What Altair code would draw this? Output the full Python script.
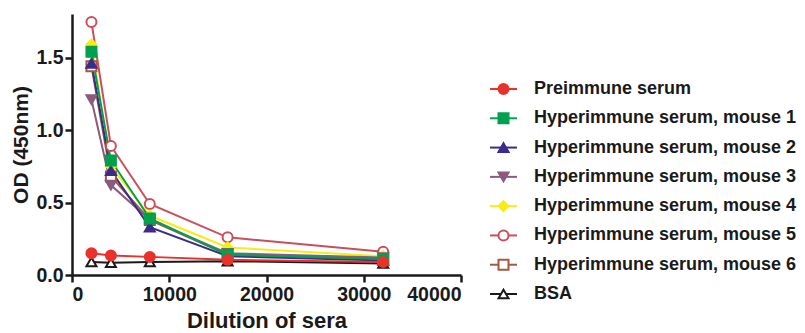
import altair as alt
import pandas as pd

dilution = [2000, 4000, 8000, 16000, 32000]

series_names = [
    "Preimmune serum",
    "Hyperimmune serum, mouse 1",
    "Hyperimmune serum, mouse 2",
    "Hyperimmune serum, mouse 3",
    "Hyperimmune serum, mouse 4",
    "Hyperimmune serum, mouse 5",
    "Hyperimmune serum, mouse 6",
    "BSA",
]

preimmune = [0.15, 0.135, 0.125, 0.105, 0.09]
mouse1 = [1.54, 0.79, 0.39, 0.14, 0.11]
mouse2 = [1.46, 0.72, 0.33, 0.13, 0.10]
mouse3 = [1.21, 0.62, 0.38, 0.15, 0.12]
mouse4 = [1.59, 0.75, 0.41, 0.19, 0.13]
mouse5 = [1.745, 0.89, 0.49, 0.26, 0.16]
mouse6 = [1.44, 0.68, 0.38, 0.14, 0.11]
bsa = [0.09, 0.085, 0.09, 0.095, 0.08]

all_values = [preimmune, mouse1, mouse2, mouse3, mouse4, mouse5, mouse6, bsa]

stroke_colors = ["#e8322b", "#00a14e", "#3a2c8c", "#8c5a7c", "#f7ec13", "#c94f5b", "#a5593f", "#1a1a1a"]
fill_colors = ["#e8322b", "#00a14e", "#3a2c8c", "#8c5a7c", "#f7ec13", "white", "white", "white"]
shapes = ["circle", "square", "triangle-up", "triangle-down", "diamond", "circle", "square", "triangle-up"]

rows = []
# draw in reverse order so that the first series ends on top
for i in reversed(range(len(series_names))):
    for d, v in zip(dilution, all_values[i]):
        rows.append({"series": series_names[i], "dilution": d, "od": v, "order": len(series_names) - i})
df = pd.DataFrame(rows)

stroke_scale = alt.Scale(domain=series_names, range=stroke_colors)
fill_scale = alt.Scale(domain=series_names, range=fill_colors)
shape_scale = alt.Scale(domain=series_names, range=shapes)

FONT = "Liberation Sans"

x_enc = alt.X(
    "dilution:Q",
    scale=alt.Scale(domain=[0, 40000], nice=False, zero=True),
    axis=alt.Axis(
        values=[0, 10000, 20000, 30000, 40000], format="d", title="Dilution of sera",
        titleFontSize=22, labelFontSize=19.5, titlePadding=7, labelPadding=3,
    ),
)
y_enc = alt.Y(
    "od:Q",
    scale=alt.Scale(domain=[0, 1.8], nice=False),
    axis=alt.Axis(
        values=[0, 0.5, 1.0, 1.5], format=".1f", title="OD (450nm)",
        titleFontSize=21, labelFontSize=19.5, titlePadding=4, labelPadding=2,
    ),
)

lines = alt.Chart(df).mark_line(strokeWidth=2).encode(
    x=x_enc, y=y_enc,
    stroke=alt.Stroke("series:N", scale=stroke_scale, legend=None),
    order="order:Q",
    detail="series:N",
)
points = alt.Chart(df).mark_point(filled=False, strokeWidth=2, opacity=1, size=100).encode(
    x=x_enc, y=y_enc,
    stroke=alt.Stroke("series:N", scale=stroke_scale, legend=None),
    fill=alt.Fill("series:N", scale=fill_scale, legend=None),
    shape=alt.Shape("series:N", scale=shape_scale, legend=None),
    fillOpacity=alt.value(1),
)
plot = alt.layer(lines, points).properties(width=389, height=261)

leg_df = pd.DataFrame({"series": series_names, "idx": list(range(len(series_names)))})
leg_y = alt.Y("idx:Q", scale=alt.Scale(domain=[0, 7], range=[75, 280]), axis=None)
leg_base = alt.Chart(leg_df)
leg_rule = leg_base.mark_rule(strokeWidth=2).encode(
    x=alt.value(0), x2=alt.value(27), y=leg_y,
    stroke=alt.Stroke("series:N", scale=stroke_scale, legend=None),
)
leg_pt = leg_base.mark_point(filled=False, strokeWidth=2, opacity=1, size=100).encode(
    x=alt.value(13.5), y=leg_y,
    stroke=alt.Stroke("series:N", scale=stroke_scale, legend=None),
    fill=alt.Fill("series:N", scale=fill_scale, legend=None),
    shape=alt.Shape("series:N", scale=shape_scale, legend=None),
    fillOpacity=alt.value(1),
)
leg_txt = leg_base.mark_text(align="left", baseline="middle", fontSize=18, fontWeight="bold",
                             font=FONT, color="#1a1a1a").encode(
    x=alt.value(44), y=leg_y, text="series:N",
)
legend = alt.layer(leg_rule, leg_pt, leg_txt).properties(width=260, height=261)

chart = alt.hconcat(plot, legend, spacing=29, bounds="flush").properties(
    padding={"left": 2, "top": 4, "right": 0, "bottom": 0}
).configure_view(stroke=None).configure_axis(
    domainWidth=2.5, domainColor="#1a1a1a", tickColor="#1a1a1a", tickWidth=2.5, tickSize=7,
    labelFont=FONT, titleFont=FONT, labelFontWeight="bold", titleFontWeight="bold",
    labelColor="#1a1a1a", titleColor="#1a1a1a", grid=False,
)

chart.save("out.html", embed_options={"renderer": "svg", "actions": False})
